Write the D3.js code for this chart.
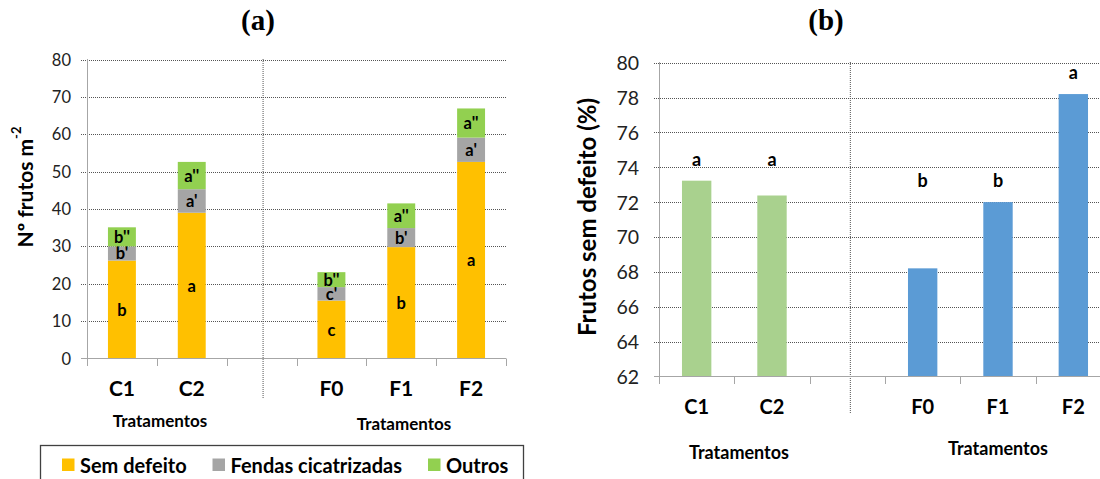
<!DOCTYPE html>
<html>
<head>
<meta charset="utf-8">
<script src="https://cdn.jsdelivr.net/npm/d3@7"></script>
<style>
  html, body { margin: 0; padding: 0; background: #fff; }
  svg { display: block; font-family: Lato, "Open Sans", sans-serif; }
</style>
</head>
<body>
<svg id="fig" width="1100" height="479"></svg>
<script>
// Treatments (the empty slot separates the C and F groups)
const categories = ["C1", "C2", "", "F0", "F1", "F2"];
const groups = ["C", "C", "", "F", "F", "F"];

// (a) fruits per m2, stacked by class
const semDefeito = [26.2, 39.0, null, 15.5, 29.8, 52.6];
const fendasCicatrizadas = [3.8, 6.3, null, 3.6, 5.1, 6.5];
const outros = [5.1, 7.3, null, 4.0, 6.6, 7.8];
const letrasSem = ["b", "a", "", "c", "b", "a"];
const letrasFendas = ["b'", "a'", "", "c'", "b'", "a'"];
const letrasOutros = ["b''", "a''", "", "b''", "a''", "a''"];
const ticksA = [0, 10, 20, 30, 40, 50, 60, 70, 80];

// (b) percentage of fruits without defects
const percentSemDefeito = [73.23, 72.38, null, 68.2, 72.0, 78.2];
const letrasPct = ["a", "a", "", "b", "b", "a"];
const ticksB = [62, 64, 66, 68, 70, 72, 74, 76, 78, 80];

const seriesNames = ["Sem defeito", "Fendas cicatrizadas", "Outros"];
const seriesColors = ["#FFC000", "#A5A5A5", "#92D050"];
const colorC = "#A9D18E", colorF = "#5B9BD5";

const svg = d3.select("#fig");
const axisGray = "#A6A6A6";
const gridColor = "#555";

function dottedGrid(g, x0, x1, ys) {
  g.selectAll("line.grid").data(ys).join("line")
    .attr("class", "grid")
    .attr("x1", x0).attr("x2", x1)
    .attr("y1", d => Math.round(d) + 0.5).attr("y2", d => Math.round(d) + 0.5)
    .attr("stroke", gridColor).attr("stroke-width", 1)
    .attr("stroke-dasharray", "1,1");
}

// ---------- Panel (a) ----------
const xA = d3.scaleBand().domain(d3.range(categories.length))
  .range([87, 506]).paddingInner(0.6).paddingOuter(0.3);
const yA = d3.scaleLinear().domain([0, 80]).range([358.5, 59.5]);
const gA = svg.append("g");

dottedGrid(gA, 81, 506, ticksA.filter(t => t > 0).map(yA));

// group separator
const sepA = xA.range()[0] + 2.5 * xA.step() + 1.5;
gA.append("line").attr("x1", sepA).attr("x2", sepA).attr("y1", 59).attr("y2", 398)
  .attr("stroke", gridColor).attr("stroke-dasharray", "1,1");

// stacked bars
const stackRows = categories.map((c, i) => ({
  i, sem: semDefeito[i], fen: fendasCicatrizadas[i], out: outros[i]
})).filter(d => d.sem != null);
const stacked = d3.stack().keys(["sem", "fen", "out"])(stackRows);
const letterSets = [letrasSem, letrasFendas, letrasOutros];

stacked.forEach((layer, li) => {
  gA.selectAll(null).data(layer).join("rect")
    .attr("x", d => xA(d.data.i))
    .attr("width", xA.bandwidth())
    .attr("y", d => yA(d[1]))
    .attr("height", d => yA(d[0]) - yA(d[1]))
    .attr("fill", seriesColors[li]);
  gA.selectAll(null).data(layer).join("text")
    .attr("x", d => xA(d.data.i) + xA.bandwidth() / 2)
    .attr("y", d => (yA(d[0]) + yA(d[1])) / 2)
    .attr("text-anchor", "middle").attr("dominant-baseline", "central")
    .attr("font-size", 16.5).attr("font-weight", "bold").attr("fill", "#000")
    .text(d => letterSets[li][d.data.i]);
});

// axes
gA.append("line").attr("x1", 87.5).attr("x2", 87.5).attr("y1", 59).attr("y2", 365)
  .attr("stroke", axisGray);
gA.append("line").attr("x1", 81).attr("x2", 506).attr("y1", 358.5).attr("y2", 358.5)
  .attr("stroke", axisGray);
gA.selectAll("line.xt").data(d3.range(categories.length + 1)).join("line")
  .attr("class", "xt")
  .attr("x1", i => Math.round(xA.range()[0] + i * xA.step()) + 0.5)
  .attr("x2", i => Math.round(xA.range()[0] + i * xA.step()) + 0.5)
  .attr("y1", 358.5).attr("y2", 366).attr("stroke", axisGray);
gA.selectAll("text.yt").data(ticksA).join("text")
  .attr("class", "yt")
  .attr("x", 71).attr("y", d => yA(d))
  .attr("text-anchor", "end").attr("dominant-baseline", "central")
  .attr("font-size", 16.5).attr("fill", "#222").text(d => d);
gA.selectAll("text.xl").data(categories).join("text")
  .attr("class", "xl")
  .attr("x", (d, i) => xA(i) + xA.bandwidth() / 2).attr("y", 387)
  .attr("text-anchor", "middle").attr("dominant-baseline", "central")
  .attr("font-size", 21).attr("font-weight", "bold").text(d => d);
[[160, 420], [404, 423]].forEach(([cx, cy]) => {
  gA.append("text").attr("x", cx).attr("y", cy)
    .attr("text-anchor", "middle").attr("dominant-baseline", "central")
    .attr("font-size", 17).attr("font-weight", "bold").text("Tratamentos");
});
const ytA = gA.append("text")
  .attr("transform", "translate(24,187) rotate(-90)")
  .attr("text-anchor", "middle").attr("dominant-baseline", "central")
  .attr("font-size", 21).attr("font-weight", "bold");
ytA.append("tspan").text("Nº frutos m");
ytA.append("tspan").attr("font-size", 13).attr("dy", -8).text("-2");

svg.append("text").attr("x", 258).attr("y", 30).attr("text-anchor", "middle")
  .attr("font-family", "'Liberation Serif', serif").attr("font-weight", "bold")
  .attr("font-size", 29).text("(a)");

// legend
const lg = svg.append("g");
lg.append("rect").attr("x", 40.5).attr("y", 445.5).attr("width", 483).attr("height", 40)
  .attr("fill", "none").attr("stroke", "#404040").attr("stroke-width", 1.3);
const legendX = [62, 212.5, 428];
seriesNames.forEach((name, i) => {
  lg.append("rect").attr("x", legendX[i]).attr("y", 458.5).attr("width", 12.5).attr("height", 12.5)
    .attr("fill", seriesColors[i]);
  lg.append("text").attr("x", legendX[i] + 18).attr("y", 465)
    .attr("dominant-baseline", "central")
    .attr("font-size", 20).attr("font-weight", "bold").text(name);
});

// ---------- Panel (b) ----------
const xB = d3.scaleBand().domain(d3.range(categories.length))
  .range([659, 1111]).paddingInner(0.61).paddingOuter(0.305);
const yB = d3.scaleLinear().domain([62, 80]).range([376.4, 62.7]);
const gB = svg.append("g");

dottedGrid(gB, 654, 1111, ticksB.filter(t => t > 62).map(yB));
const sepB = xB.range()[0] + 2.5 * xB.step() + 3;
gB.append("line").attr("x1", sepB).attr("x2", sepB).attr("y1", 62).attr("y2", 414)
  .attr("stroke", gridColor).attr("stroke-dasharray", "1,1");

const barsB = categories.map((c, i) => ({ i, v: percentSemDefeito[i], g: groups[i], l: letrasPct[i] }))
  .filter(d => d.v != null);
gB.selectAll("rect").data(barsB).join("rect")
  .attr("x", d => xB(d.i)).attr("width", xB.bandwidth())
  .attr("y", d => yB(d.v)).attr("height", d => yB(62) - yB(d.v))
  .attr("fill", d => d.g === "C" ? colorC : colorF);

// significance letters sit above the tallest bar sharing the same group and letter
gB.selectAll("text.sig").data(barsB).join("text")
  .attr("class", "sig")
  .attr("x", d => xB(d.i) + xB.bandwidth() / 2)
  .attr("y", d => yB(d3.max(barsB.filter(b => b.g === d.g && b.l === d.l), b => b.v)) - 22)
  .attr("text-anchor", "middle").attr("dominant-baseline", "central")
  .attr("font-size", 18).attr("font-weight", "bold").text(d => d.l);

gB.append("line").attr("x1", 659.5).attr("x2", 659.5).attr("y1", 62).attr("y2", 383)
  .attr("stroke", axisGray);
gB.append("line").attr("x1", 654).attr("x2", 1111).attr("y1", 376.5).attr("y2", 376.5)
  .attr("stroke", axisGray);
gB.selectAll("line.xt").data(d3.range(categories.length + 1)).join("line")
  .attr("class", "xt")
  .attr("x1", i => Math.round(xB.range()[0] + i * xB.step()) + 0.5)
  .attr("x2", i => Math.round(xB.range()[0] + i * xB.step()) + 0.5)
  .attr("y1", 376.5).attr("y2", 384).attr("stroke", axisGray);
gB.selectAll("text.yt").data(ticksB).join("text")
  .attr("class", "yt")
  .attr("x", 639).attr("y", d => yB(d))
  .attr("text-anchor", "end").attr("dominant-baseline", "central")
  .attr("font-size", 19.5).attr("fill", "#222").text(d => d);
gB.selectAll("text.xl").data(categories).join("text")
  .attr("class", "xl")
  .attr("x", (d, i) => xB(i) + xB.bandwidth() / 2).attr("y", 406)
  .attr("text-anchor", "middle").attr("dominant-baseline", "central")
  .attr("font-size", 20).attr("font-weight", "bold").text(d => d);
[[739, 452], [998, 448]].forEach(([cx, cy]) => {
  gB.append("text").attr("x", cx).attr("y", cy)
    .attr("text-anchor", "middle").attr("dominant-baseline", "central")
    .attr("font-size", 18).attr("font-weight", "bold").text("Tratamentos");
});
gB.append("text")
  .attr("transform", "translate(586,217) rotate(-90)")
  .attr("text-anchor", "middle").attr("dominant-baseline", "central")
  .attr("font-size", 24).attr("font-weight", "bold").text("Frutos sem defeito (%)");

svg.append("text").attr("x", 826).attr("y", 30).attr("text-anchor", "middle")
  .attr("font-family", "'Liberation Serif', serif").attr("font-weight", "bold")
  .attr("font-size", 29).text("(b)");
</script>
</body>
</html>
